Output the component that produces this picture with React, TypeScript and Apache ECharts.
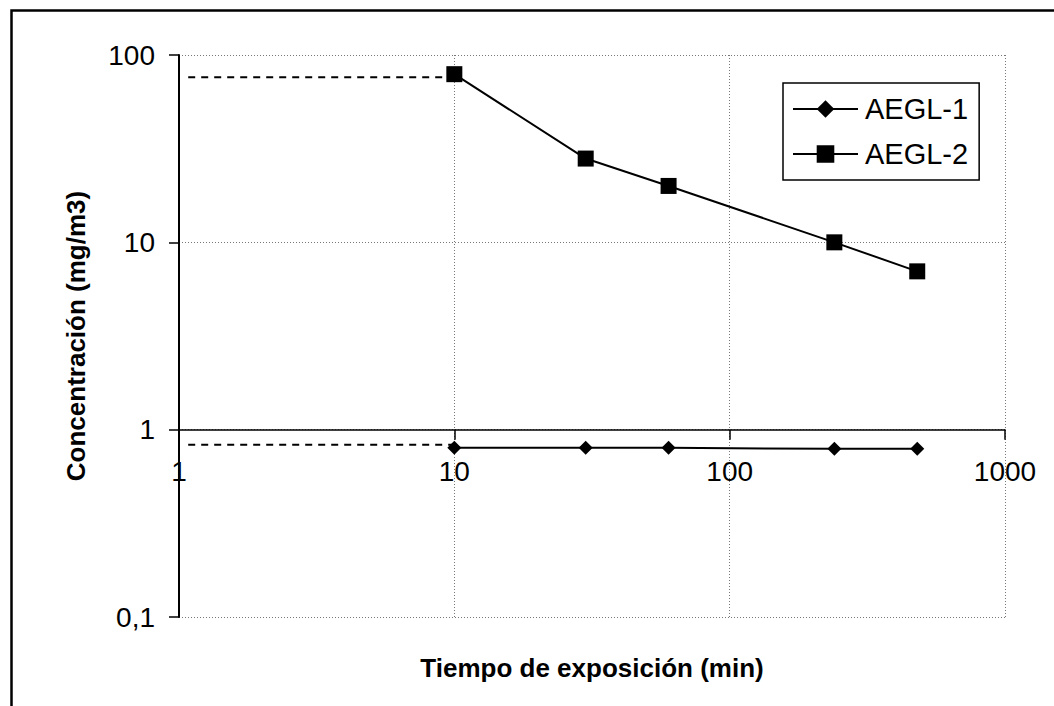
import React, { useEffect, useRef } from "react";
import * as echarts from "echarts";

const times = [10, 30, 60, 240, 480];
const aegl1 = [0.8, 0.8, 0.8, 0.79, 0.79];
const aegl2 = [79, 28, 20, 10, 7];
const extTimes = [1.08, 10];
const aegl1Ext = [0.83, 0.83];
const aegl2Ext = [76, 76];
const xTicks = [1, 10, 100, 1000];
const yTicks = [0.1, 1, 10, 100];

const FONT = "'Liberation Sans', Arial, sans-serif";

export default function App() {
  const ref = useRef<HTMLDivElement>(null);
  useEffect(() => {
    if (!ref.current) return;
    const chart = echarts.init(ref.current, null, { renderer: "svg" });
    const pairs = (xs: number[], ys: number[]) => xs.map((x, i) => [x, ys[i]]);
    chart.setOption({
      animation: false,
      backgroundColor: "#ffffff",
      textStyle: { fontFamily: FONT, color: "#000" },
      grid: { left: 179, top: 55, right: 49, bottom: 89, containLabel: false },
      xAxis: {
        type: "log",
        logBase: 10,
        min: xTicks[0],
        max: xTicks[xTicks.length - 1],
        position: "bottom",
        offset: -187.33,
        name: "Tiempo de exposición (min)",
        nameLocation: "middle",
        nameGap: 225,
        nameTextStyle: { fontFamily: FONT, fontSize: 26, fontWeight: "bold", color: "#000" },
        axisLine: { show: true, lineStyle: { color: "#000", width: 1.5 } },
        axisTick: { show: true, length: 10, lineStyle: { color: "#000", width: 1.5 } },
        axisLabel: {
          fontFamily: FONT,
          fontSize: 28,
          color: "#000",
          margin: 28,
          formatter: (v: number) => String(Math.round(v)),
        },
        splitLine: { show: true, lineStyle: { color: "#777", width: 1, type: [1, 2] } },
        minorTick: { show: false },
      },
      yAxis: {
        type: "log",
        logBase: 10,
        min: yTicks[0],
        max: yTicks[yTicks.length - 1],
        name: "Concentración (mg/m3)",
        nameLocation: "middle",
        nameGap: 90,
        nameRotate: 90,
        nameTextStyle: { fontFamily: FONT, fontSize: 26, fontWeight: "bold", color: "#000" },
        axisLine: { show: true, lineStyle: { color: "#000", width: 2 } },
        axisTick: { show: true, length: 10, lineStyle: { color: "#000", width: 1.5 } },
        axisLabel: {
          fontFamily: FONT,
          fontSize: 28,
          color: "#000",
          margin: 24,
          formatter: (v: number) => String(v).replace(".", ","),
        },
        splitLine: { show: true, lineStyle: { color: "#777", width: 1, type: [1, 2] } },
      },
      legend: {
        data: ["AEGL-1", "AEGL-2"],
        orient: "vertical",
        left: 783,
        top: 83,
        padding: [11, 11, 11, 9],
        itemGap: 15,
        itemWidth: 65,
        itemHeight: 22,
        selectedMode: false,
        backgroundColor: "#fff",
        borderColor: "#000",
        borderWidth: 1.5,
        borderRadius: 0,
        textStyle: { fontFamily: FONT, fontSize: 29, color: "#000", lineHeight: 30, padding: [0, 0, 0, 2] },
      },
      graphic: [
        {
          type: "rect",
          left: 9,
          top: 8,
          shape: { x: 0, y: 0, width: 1100, height: 800 },
          style: { fill: "none", stroke: "#000", lineWidth: 2.5 },
          silent: true,
        },
      ],
      series: [
        {
          name: "AEGL-1",
          type: "line",
          data: pairs(times, aegl1),
          symbol: "diamond",
          symbolSize: 14,
          itemStyle: { color: "#000" },
          lineStyle: { color: "#000", width: 2 },
          z: 5,
        },
        {
          name: "AEGL-2",
          type: "line",
          data: pairs(times, aegl2),
          symbol: "rect",
          symbolSize: 16,
          itemStyle: { color: "#000" },
          lineStyle: { color: "#000", width: 2 },
          z: 5,
        },
        {
          name: "AEGL-1 ext",
          type: "line",
          data: pairs(extTimes, aegl1Ext),
          symbol: "none",
          lineStyle: { color: "#000", width: 2, type: [7, 6] },
          z: 4,
        },
        {
          name: "AEGL-2 ext",
          type: "line",
          data: pairs(extTimes, aegl2Ext),
          symbol: "none",
          lineStyle: { color: "#000", width: 2, type: [7, 6] },
          z: 4,
        },
      ],
    });
    return () => chart.dispose();
  }, []);
  return (
    <div
      ref={ref}
      style={{ position: "absolute", left: 0, top: 0, width: 1054, height: 706, background: "#fff" }}
    />
  );
}
